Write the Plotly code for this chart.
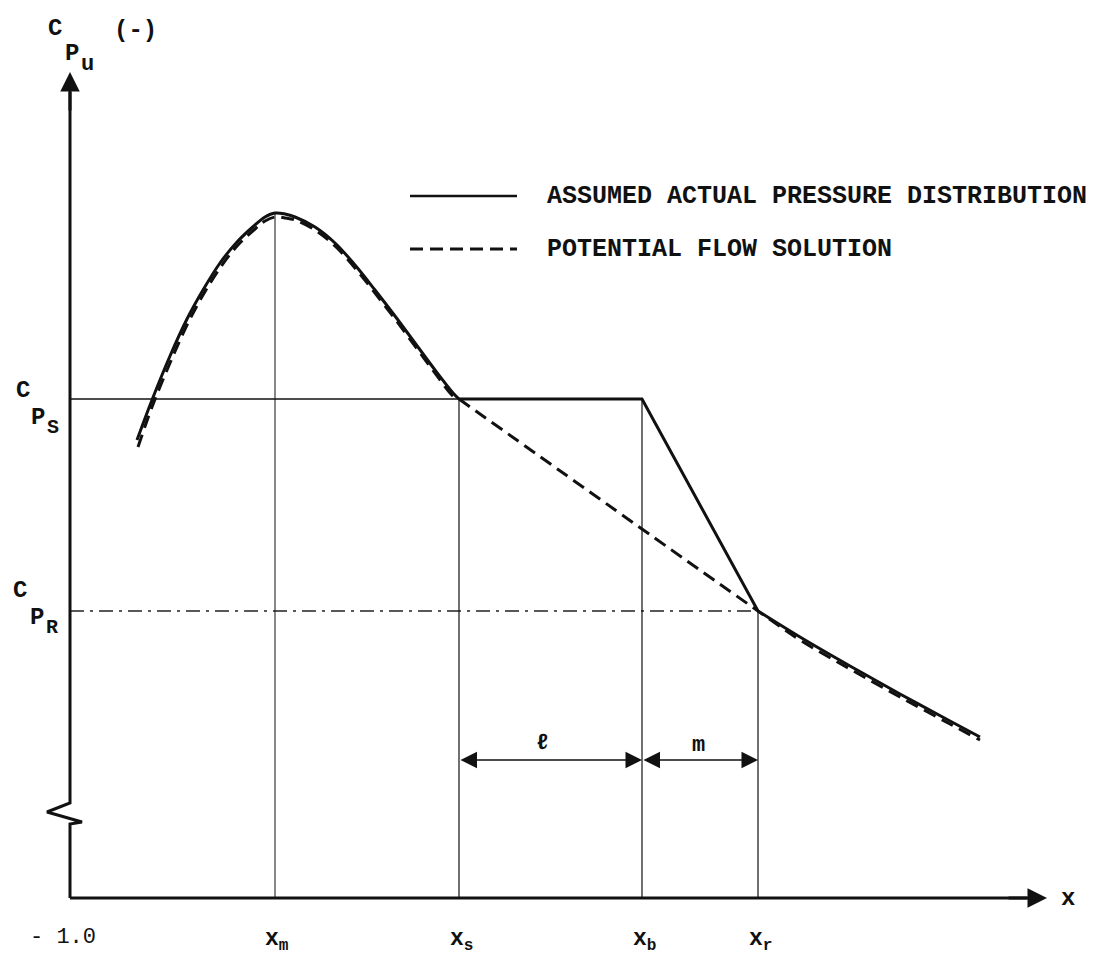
import plotly.graph_objects as go

# ---- schematic data (x: distance along chord, cp: suction height above axis; arbitrary units) ----
hump_x = [67, 82, 100, 117, 133, 150, 167, 185, 195, 205, 215,
          225, 245, 265, 285, 305, 325, 345, 365, 383, 389]
actual_hump_cp = [458, 498, 542, 579, 608, 635, 656, 673, 681, 685, 684,
                  681, 671, 655, 633, 608, 582, 555, 528, 505, 499]

pot_hump_x = [68, 82, 100, 117, 133, 150, 167, 185, 195, 205, 215,
              225, 245, 265, 285, 305, 325, 345, 365, 383, 389]
potential_hump_cp = [451, 491, 535, 573, 603, 630, 652, 669, 677, 681, 680,
                     678, 668, 652, 630, 605, 579, 552, 525, 502, 499]

tail_x = [688, 730, 780, 830, 880, 910]
actual_tail_cp = [287, 261, 232, 204, 177, 161]
potential_tail_cp = [286, 258, 229, 201, 174, 158]

# characteristic stations and levels
x_m, x_s, x_b, x_r = 205, 389, 572, 688
cp_peak, cp_S, cp_R = 685, 499, 287
x_end, cp_top = 977, 826
dim_level = 138

station_labels = ["x<sub>m</sub>", "x<sub>s</sub>", "x<sub>b</sub>", "x<sub>r</sub>"]
legend_labels = ["ASSUMED ACTUAL PRESSURE DISTRIBUTION", "POTENTIAL FLOW SOLUTION"]

FONT = "Liberation Mono"
BLACK = "#111111"

fig = go.Figure()

def line(xs, ys, width=1.2, dash="solid", shape="linear", color=BLACK):
    fig.add_trace(go.Scatter(x=xs, y=ys, mode="lines", hoverinfo="skip",
                             line=dict(color=color, width=width, dash=dash, shape=shape)))

# thin construction lines
line([0, x_b], [cp_S, cp_S], 1.4)
line([0, x_r], [cp_R, cp_R], 1.3, dash="14px,6px,3px,6px", color="#222222")
line([x_m, x_m], [0, cp_peak], 1.0)
line([x_s, x_s], [0, cp_S], 1.2)
line([x_b, x_b], [0, cp_S], 1.2)
line([x_r, x_r], [0, cp_R], 1.2)

# potential flow solution (dashed)
line(pot_hump_x, potential_hump_cp, 3, dash="13px,7px", shape="spline")
line([x_s, x_r] + tail_x[1:], [cp_S, cp_R] + potential_tail_cp[1:], 3, dash="13px,7px", shape="spline")

# assumed actual distribution (solid)
line(hump_x, actual_hump_cp, 3, shape="spline")
line([x_s, x_b, x_r], [cp_S, cp_S, cp_R], 3)
line(tail_x, actual_tail_cp, 3, shape="spline")

# axes with break
line([0, 0, -23, 12, 0, 0], [cp_top - 20, 95, 86, 76, 74, 0], 3)
line([0, x_end - 20], [0, 0], 3)

ann = []
# axis arrowheads
ann.append(dict(x=0, y=cp_top, ax=0, ay=cp_top - 40, xref="x", yref="y", axref="x", ayref="y",
                showarrow=True, arrowhead=2, arrowsize=1.3, arrowwidth=3, arrowcolor=BLACK, text=""))
ann.append(dict(x=x_end, y=0, ax=x_end - 40, ay=0, xref="x", yref="y", axref="x", ayref="y",
                showarrow=True, arrowhead=2, arrowsize=1.3, arrowwidth=3, arrowcolor=BLACK, text=""))
# dimension arrows
for a, b in [(x_s, x_b), (x_b, x_r)]:
    ann.append(dict(x=b, y=dim_level, ax=a, ay=dim_level, xref="x", yref="y", axref="x", ayref="y",
                    showarrow=True, arrowhead=2, arrowside="end+start", arrowsize=2.2,
                    arrowwidth=1.5, arrowcolor=BLACK, text=""))

def txt(x, y, s, size=24, bold=False, xanchor="center"):
    ann.append(dict(x=x, y=y, xref="x", yref="y", text=("<b>%s</b>" % s) if bold else s,
                    showarrow=False, xanchor=xanchor, yanchor="middle",
                    font=dict(family=FONT, size=size, color=BLACK)))

# y-axis title C_{P_u} (-)
txt(-15, 870, "C", 24, True)
txt(2, 845, "P", 24, True)
txt(17, 834, "u", 22, True)
txt(65, 868, "(-)", 24, True)
# C_{P_S}
txt(-47, 508, "C", 24, True)
txt(-32, 481, "P", 24, True)
txt(-17, 471, "S", 20, True)
# C_{P_R}
txt(-50, 308, "C", 24, True)
txt(-33, 281, "P", 24, True)
txt(-18, 271, "R", 20, True)

txt(-7, -39, "- 1.0", 22)
for xv, lab in zip([x_m, x_s, x_b, x_r], station_labels):
    txt(xv + 2, -42, lab, 23, True)
txt(998, 0, "x", 24, True)
txt(472, 155, "ℓ", 22, True)
txt(628, 153, "m", 22, True)

# legend (drawn)
line([340, 447], [702, 702], 2.5)
line([340, 447], [649, 649], 3, dash="13px,7px")
txt(475, 702, legend_labels[0], 25, True, "left")
txt(475, 649, legend_labels[1], 25, True, "left")

fig.update_layout(
    width=1113, height=959, margin=dict(l=0, r=0, t=0, b=0),
    paper_bgcolor="white", plot_bgcolor="white", showlegend=False,
    xaxis=dict(range=[-70, 1043], visible=False, fixedrange=True),
    yaxis=dict(range=[-61, 898], visible=False, fixedrange=True),
    annotations=ann,
)
fig.write_html("out.html")
